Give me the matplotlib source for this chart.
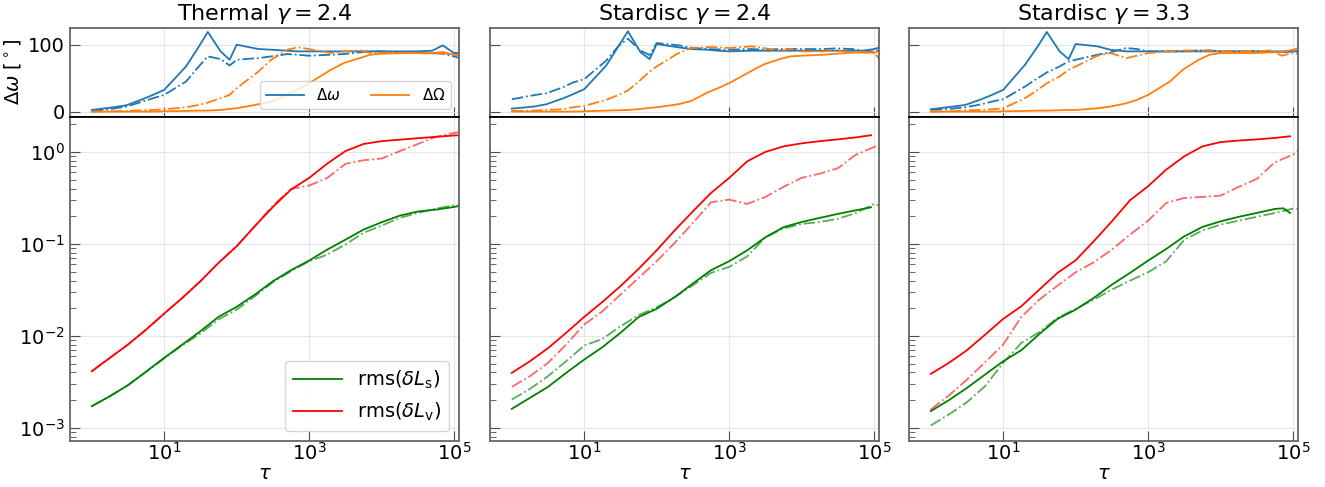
import numpy as np
import matplotlib
matplotlib.use('Agg')
import matplotlib.pyplot as plt
from matplotlib.ticker import NullLocator, LogLocator

titles = [r'Thermal $\gamma=2.4$', r'Stardisc $\gamma=2.4$', r'Stardisc $\gamma=3.3$']

# time grid for the misalignment angles (top row)
tau_top = [1, 2, 3, 5, 7, 10, 20, 30, 40, 60, 80, 100, 200, 300, 500, 700,
           1e3, 2e3, 3e3, 5e3, 7e3, 1e4, 2e4, 3e4, 5e4, 7e4, 1e5, 1.2e5]

# Delta omega / Delta Omega in degrees, solid and dash-dot runs
dw_1 = [2.5, 6.5, 9.5, 18.5, 25, 32.5, 67.5, 97, 119, 90, 77.5, 100, 93.5, 92.5, 91, 90,
        90, 90, 90, 90, 90, 90, 90, 90, 91, 99, 87.5, 88]
dw_1b = [1, 4.5, 7.5, 15, 20, 25, 45, 67.5, 82.5, 78.5, 69, 77.5, 80, 82.5, 86, 85,
         83.5, 85, 86, 88.5, 90, 90, 88.5, 88.5, 87.5, 86.5, 82.5, 80]
dO_1 = [0, 0, 0, 0, 0, 0.5, 1, 1.5, 1.5, 2.5, 4, 5, 11, 15, 25, 33,
        42.5, 62.5, 72.5, 80, 85, 86.5, 87.5, 87.5, 87.5, 89, 85, 83.5]
dO_1b = [0, 0.5, 1, 2, 2.5, 3.5, 6.5, 10, 13.5, 20, 25, 35, 60, 77.5, 92.5, 96,
         93.5, 87.5, 90, 91.5, 87.5, 88, 88, 87.5, 86.5, 87.5, 85, 83.5]

dw_2 = [4.5, 7.5, 11, 19.5, 26, 33.5, 68.5, 98.5, 120, 88.5, 78.5, 101, 96, 93.5, 92.5, 91,
        90, 91, 91, 91, 91, 91, 91, 91, 91, 91, 93.5, 96]
dw_2b = [18.5, 24.5, 27.5, 36, 43.5, 48.5, 76, 98.5, 109, 91, 84.5, 102.5, 99, 95.5, 93.5, 93,
         92.5, 93.5, 92.5, 93.5, 93.5, 93.5, 93.5, 94.5, 93.5, 91, 89.5, 93]
dO_2 = [0, 0, 0, 0, 0, 0.5, 1.5, 2, 2.5, 4, 5.5, 6.5, 11, 16, 28.5, 35,
        42.5, 60.5, 70.5, 78.5, 82.5, 83.5, 85, 86.5, 88, 88.5, 88, 91]
dO_2b = [1, 1.5, 2.5, 3.5, 6.5, 8.5, 17.5, 25, 31.5, 47.5, 60, 67.5, 87.5, 95, 96.5, 96,
         95, 97.5, 95, 91, 93.5, 90, 90, 91.5, 88.5, 88.5, 88.5, 77.5]

dw_3 = [3.5, 7.5, 10, 18.5, 25, 32.5, 70, 97.5, 119, 90, 78.5, 101, 97.5, 92.5, 90, 90,
        90, 90, 90, 90, 90, 90, 90, 90, 90, 90, 90, 90]
dw_3b = [2.5, 4.5, 6.5, 11, 15, 18.5, 37.5, 50, 58.5, 67.5, 75, 77.5, 85, 88.5, 95, 93.5,
         90, 90, 90, 91.5, 91.5, 90, 90, 90, 89, 88.5, 90, 91.5]
dO_3 = [0, 0, 0, 0, 0, 0.5, 1, 1.5, 1.5, 2, 2.5, 2.5, 5, 7.5, 12.5, 17.5,
        25, 45, 62.5, 77.5, 85, 87.5, 87.5, 87.5, 88.5, 89, 92.5, 95]
dO_3b = [0, 0.5, 2, 2.5, 3.5, 5, 20, 32.5, 42.5, 52.5, 62.5, 67.5, 83.5, 87.5, 80, 83.5,
         87.5, 90, 91.5, 91, 91.5, 90, 90, 90, 91.5, 83.5, 87.5, 86]

# time grid for the rms curves (bottom row)
tau_low = [1, 1.78, 3.16, 5.62, 10, 17.8, 31.6, 56.2, 100, 178, 316, 562,
           1e3, 1.78e3, 3.16e3, 5.62e3, 1e4, 1.78e4, 3.16e4, 5.62e4, 1e5, 1.17e5]
tau_end = [1, 1.78, 3.16, 5.62, 10, 17.8, 31.6, 56.2, 100, 178, 316, 562,
           1e3, 1.78e3, 3.16e3, 5.62e3, 1e4, 1.78e4, 3.16e4, 5.62e4, 9.1e4]
tau_end3 = [1, 1.78, 3.16, 5.62, 10, 17.8, 31.6, 56.2, 100, 178, 316, 562,
            1e3, 1.78e3, 3.16e3, 5.62e3, 1e4, 1.78e4, 3.16e4, 5.62e4, 7.4e4, 9.1e4]

Lv_1 = [0.00413, 0.00577, 0.00805, 0.0117, 0.0175, 0.0259, 0.0393, 0.0622, 0.0944, 0.156, 0.252,
        0.390, 0.522, 0.747, 1.02, 1.22, 1.31, 1.36, 1.41, 1.46, 1.51, 1.52]
Lv_1b = [0.00413, 0.00577, 0.00805, 0.0117, 0.0175, 0.0259, 0.0393, 0.0622, 0.0944, 0.156, 0.261,
         0.396, 0.431, 0.522, 0.741, 0.812, 0.847, 1.02, 1.22, 1.46, 1.61, 1.64]
Ls_1 = [0.00172, 0.00221, 0.00291, 0.00409, 0.00577, 0.00805, 0.01125, 0.0161, 0.0207, 0.0281, 0.0393,
        0.0518, 0.0659, 0.0868, 0.111, 0.143, 0.172, 0.203, 0.225, 0.236, 0.252, 0.259]
Ls_1b = [0.00172, 0.00221, 0.00291, 0.00405, 0.00570, 0.0079, 0.0106, 0.0151, 0.0193, 0.0270, 0.0383,
         0.0505, 0.0648, 0.0766, 0.0984, 0.132, 0.158, 0.192, 0.217, 0.242, 0.263, 0.259]

Lv_2 = [0.00396, 0.00530, 0.00735, 0.0108, 0.0161, 0.0234, 0.0347, 0.0535, 0.0853, 0.141, 0.226,
        0.358, 0.522, 0.792, 1.00, 1.15, 1.24, 1.31, 1.37, 1.44, 1.52]
Lv_2b = [0.00279, 0.00365, 0.00509, 0.00805, 0.0133, 0.0185, 0.0281, 0.0427, 0.0648, 0.103, 0.169,
         0.284, 0.303, 0.272, 0.324, 0.417, 0.522, 0.581, 0.664, 0.935, 1.13, 1.18]
Ls_2 = [0.00161, 0.00212, 0.00279, 0.00396, 0.00553, 0.00753, 0.0108, 0.0160, 0.0197, 0.0265, 0.0371,
        0.0518, 0.0648, 0.0853, 0.118, 0.152, 0.173, 0.192, 0.212, 0.232, 0.250]
Ls_2b = [0.00203, 0.00265, 0.00365, 0.00530, 0.00785, 0.00927, 0.0127, 0.0168, 0.0205, 0.0263, 0.0356,
         0.0484, 0.0562, 0.0734, 0.118, 0.147, 0.165, 0.173, 0.187, 0.217, 0.272, 0.261]

Lv_3 = [0.00386, 0.00509, 0.00699, 0.0103, 0.0153, 0.0210, 0.0319, 0.0484, 0.0664, 0.107, 0.176,
        0.298, 0.424, 0.643, 0.897, 1.15, 1.28, 1.33, 1.37, 1.42, 1.48]
Lv_3b = [0.00158, 0.00225, 0.00335, 0.00517, 0.00805, 0.0161, 0.0248, 0.0352, 0.0492, 0.0632, 0.0868,
         0.126, 0.179, 0.279, 0.316, 0.324, 0.335, 0.417, 0.509, 0.772, 0.935, 1.02]
Ls_3 = [0.00152, 0.00200, 0.00272, 0.00380, 0.00530, 0.00699, 0.0105, 0.0153, 0.0193, 0.0259, 0.0361,
        0.0484, 0.0659, 0.0882, 0.121, 0.153, 0.176, 0.197, 0.217, 0.240, 0.244, 0.217]
Ls_3b = [0.00106, 0.00140, 0.00190, 0.00284, 0.00509, 0.00839, 0.0110, 0.0157, 0.0197, 0.0248, 0.0319,
         0.0399, 0.0492, 0.0648, 0.111, 0.140, 0.162, 0.179, 0.197, 0.217, 0.242, 0.242]

top_data = [(dw_1, dw_1b, dO_1, dO_1b), (dw_2, dw_2b, dO_2, dO_2b), (dw_3, dw_3b, dO_3, dO_3b)]
low_data = [(tau_low, Ls_1, Ls_1b, tau_low, Lv_1, Lv_1b),
            (tau_end, Ls_2, Ls_2b, tau_end, Lv_2, Lv_2b),
            (tau_end3, Ls_3, Ls_3b, tau_end, Lv_3, Lv_3b)]

fig = plt.figure(figsize=(13.25, 4.87), dpi=100)
lefts = [0.0528, 0.3698, 0.6860]
w = 0.2936

for i in range(3):
    ax1 = fig.add_axes([lefts[i], 0.7598, w, 0.1828])
    ax2 = fig.add_axes([lefts[i], 0.0945, w, 0.6653], sharex=ax1)

    dw, dwb, dO, dOb = top_data[i]
    ax1.plot(tau_top, dw, color='C0', lw=1.3, label=r'$\Delta\omega$')
    ax1.plot(tau_top, dwb, color='C0', lw=1.3, ls='-.')
    ax1.plot(tau_top, dO, color='C1', lw=1.3, label=r'$\Delta\Omega$')
    ax1.plot(tau_top, dOb, color='C1', lw=1.3, ls='-.')
    ax1.set_ylim(-8, 125)
    ax1.set_yticks([0, 100])
    ax1.set_title(titles[i], fontsize=16)

    ts, Ls, Lsb, tv, Lv, Lvb = low_data[i]
    ax2.plot(ts, Ls, color='green', lw=1.3, label=r'rms($\delta L_{\rm s}$)')
    ax2.plot(tau_low, Lsb, color='green', lw=1.3, ls='-.', alpha=0.65)
    ax2.plot(tv, Lv, color='red', lw=1.3, label=r'rms($\delta L_{\rm v}$)')
    ax2.plot(tau_low, Lvb, color='red', lw=1.3, ls='-.', alpha=0.6)
    ax2.set_xscale('log')
    ax2.set_yscale('log')
    ax2.set_xlim(0.5, 1.17e5)
    ax2.set_ylim(7.2e-4, 2.4)
    ax2.set_xticks([10, 1e3, 1e5])
    ax2.xaxis.set_minor_locator(NullLocator())
    ax2.yaxis.set_minor_locator(LogLocator(subs=np.arange(2, 10)))
    ax2.set_xlabel(r'$\tau$', fontsize=14, labelpad=0)

    for ax in (ax1, ax2):
        ax.grid(color='#e6e6e6', lw=0.8)
        ax.tick_params(direction='in', which='major', length=7, labelsize=14, color='0.3')
        ax.tick_params(direction='in', which='minor', length=4, color='0.3')
        for s in ax.spines.values():
            s.set_color('0.4')
            s.set_linewidth(1.3)
    ax2.tick_params(axis='x', pad=1)
    ax1.spines['bottom'].set_color('black')
    ax2.spines['top'].set_color('black')
    ax1.tick_params(labelbottom=False)

    if i == 0:
        ax1.set_ylabel(r'$\Delta\omega$ [$^\circ$]', fontsize=14)
        ax1.legend(loc='lower right', ncol=2, fontsize=11, handlelength=2.5)
        ax2.legend(loc='lower right', fontsize=14, handlelength=2.5)
    else:
        ax1.tick_params(labelleft=False)
        ax2.tick_params(labelleft=False)

plt.savefig('out.png', dpi=100)
